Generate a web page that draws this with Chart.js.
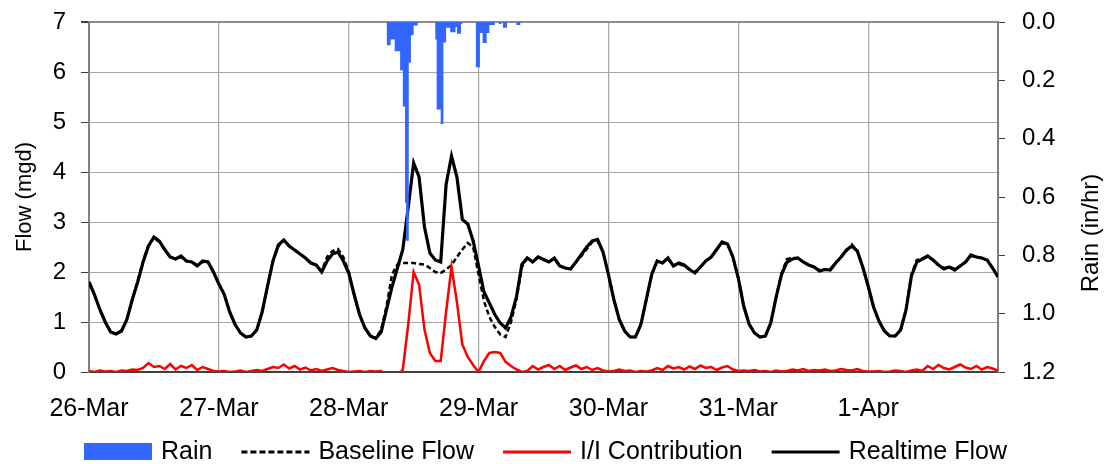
<!DOCTYPE html>
<html>
<head>
<meta charset="utf-8">
<title>Flow and Rain</title>
<script src="https://cdn.jsdelivr.net/npm/chart.js@4.4.1/dist/chart.umd.min.js"></script>
<style>
  body { margin: 0; background: #fff; }
  canvas { display: block; }
</style>
</head>
<body>
<canvas id="flowChart" width="1116" height="464"></canvas>
<script>
// one reading per hour, hour 0 = 26-Mar 00:00, hour 168 = 2-Apr 00:00
const realtimeFlow = [
  1.80, 1.55, 1.25, 1.00, 0.80, 0.76, 0.82, 1.05, 1.45, 1.80, 2.20, 2.52, 2.70, 2.62, 2.45, 2.30, 2.26, 2.32, 2.22, 2.20, 2.12, 2.22, 2.20, 2.00, 1.76,
  1.55, 1.20, 0.95, 0.78, 0.70, 0.72, 0.84, 1.20, 1.72, 2.22, 2.54, 2.64, 2.52, 2.44, 2.36, 2.28, 2.18, 2.14, 2.00, 2.22, 2.36, 2.40, 2.22, 1.98,
  1.55, 1.15, 0.88, 0.72, 0.67, 0.80, 1.25, 1.70, 2.08, 2.45, 3.30, 4.18, 3.90, 2.90, 2.38, 2.24, 2.20, 3.75, 4.32, 3.90, 3.05, 2.96, 2.62, 2.12,
  1.60, 1.38, 1.15, 0.98, 0.88, 1.10, 1.50, 2.15, 2.28, 2.20, 2.30, 2.25, 2.20, 2.28, 2.12, 2.08, 2.06, 2.20, 2.35, 2.50, 2.62, 2.65, 2.40, 1.95,
  1.45, 1.05, 0.82, 0.70, 0.70, 0.95, 1.45, 1.95, 2.22, 2.18, 2.28, 2.12, 2.18, 2.14, 2.05, 1.98, 2.10, 2.22, 2.30, 2.45, 2.60, 2.56, 2.30, 1.88,
  1.32, 0.96, 0.78, 0.70, 0.72, 0.98, 1.50, 1.95, 2.20, 2.26, 2.28, 2.20, 2.14, 2.10, 2.02, 2.05, 2.04, 2.18, 2.30, 2.44, 2.52, 2.42, 2.10, 1.72,
  1.30, 1.02, 0.82, 0.72, 0.72, 0.84, 1.24, 1.92, 2.20, 2.26, 2.32, 2.24, 2.14, 2.06, 2.10, 2.04, 2.12, 2.20, 2.34, 2.30, 2.28, 2.24, 2.08, 1.90
];
const baselineFlow = [
  1.80, 1.55, 1.25, 1.00, 0.80, 0.76, 0.82, 1.05, 1.45, 1.82, 2.22, 2.55, 2.68, 2.60, 2.44, 2.30, 2.26, 2.30, 2.22, 2.20, 2.14, 2.20, 2.20, 2.00, 1.76,
  1.55, 1.20, 0.95, 0.78, 0.70, 0.72, 0.84, 1.20, 1.72, 2.22, 2.52, 2.64, 2.52, 2.44, 2.36, 2.28, 2.18, 2.14, 2.02, 2.30, 2.42, 2.46, 2.30, 2.00,
  1.55, 1.15, 0.88, 0.72, 0.67, 0.85, 1.32, 1.95, 2.15, 2.18, 2.18, 2.18, 2.16, 2.15, 2.08, 2.00, 1.98, 2.05, 2.14, 2.30, 2.45, 2.58, 2.50, 1.95,
  1.42, 1.10, 0.90, 0.75, 0.70, 1.00, 1.45, 2.10, 2.28, 2.20, 2.30, 2.25, 2.20, 2.26, 2.12, 2.08, 2.06, 2.20, 2.32, 2.46, 2.60, 2.62, 2.40, 1.95,
  1.45, 1.05, 0.82, 0.70, 0.70, 0.95, 1.45, 1.95, 2.22, 2.18, 2.26, 2.12, 2.16, 2.12, 2.05, 2.00, 2.10, 2.22, 2.30, 2.45, 2.58, 2.56, 2.30, 1.88,
  1.32, 0.96, 0.78, 0.70, 0.72, 0.98, 1.50, 1.98, 2.26, 2.28, 2.28, 2.20, 2.14, 2.10, 2.04, 2.05, 2.06, 2.18, 2.30, 2.42, 2.55, 2.42, 2.10, 1.72,
  1.30, 1.02, 0.82, 0.72, 0.72, 0.84, 1.24, 1.95, 2.24, 2.26, 2.30, 2.24, 2.14, 2.08, 2.10, 2.06, 2.12, 2.20, 2.32, 2.30, 2.28, 2.24, 2.08, 1.90
];
const iiContribution = [
  0.02, 0.00, 0.03, 0.01, 0.02, 0.00, 0.03, 0.02, 0.05, 0.04, 0.08, 0.18, 0.10, 0.12, 0.06, 0.16, 0.05, 0.12, 0.08, 0.14, 0.04, 0.10, 0.06, 0.02, 0.01,
  0.02, 0.00, 0.01, 0.03, 0.00, 0.02, 0.04, 0.02, 0.06, 0.10, 0.08, 0.15, 0.07, 0.12, 0.05, 0.09, 0.03, 0.06, 0.02, 0.05, 0.08, 0.04, 0.02, 0.00,
  0.01, 0.02, 0.00, 0.02, 0.01, 0.02, -0.08, -0.25, -0.10, 0.05, 0.95, 2.00, 1.75, 0.85, 0.38, 0.22, 0.22, 1.20, 2.10, 1.40, 0.55, 0.30, 0.14, 0.00,
  0.22, 0.38, 0.40, 0.38, 0.20, 0.12, 0.05, 0.00, 0.02, 0.12, 0.05, 0.10, 0.14, 0.06, 0.12, 0.04, 0.09, 0.13, 0.06, 0.10, 0.04, 0.08, 0.03, 0.01,
  0.02, 0.05, 0.02, 0.03, 0.00, 0.02, 0.01, 0.03, 0.08, 0.04, 0.12, 0.07, 0.10, 0.05, 0.11, 0.06, 0.13, 0.08, 0.10, 0.04, 0.09, 0.12, 0.05, 0.02,
  0.03, 0.02, 0.04, 0.01, 0.02, 0.00, 0.03, 0.01, 0.02, 0.05, 0.03, 0.06, 0.02, 0.04, 0.03, 0.05, 0.02, 0.03, 0.06, 0.04, 0.03, 0.06, 0.02, 0.01,
  0.01, 0.02, 0.00, 0.01, 0.03, 0.02, 0.00, 0.03, 0.05, 0.02, 0.12, 0.06, 0.14, 0.08, 0.05, 0.10, 0.15, 0.09, 0.06, 0.12, 0.05, 0.10, 0.07, 0.03
];

// rain intensity, each value holds until the next time (hours from 26-Mar 00:00)
const rainHours = [
  55.0, 55.75, 56.5, 57.5, 58.0, 58.4, 58.6, 59.1, 59.5, 60.0, 60.75,
  64.0, 64.25, 65.0, 65.5, 66.0, 66.75, 67.75, 68.0, 68.75, 69.0,
  71.5, 72.25, 72.75, 73.5, 74.0, 75.0, 75.75, 76.25, 76.5, 77.25, 79.0, 79.75
];
const rainRate = [
  0.08, 0.06, 0.10, 0.165, 0.29, 0.62, 0.75, 0.14, 0.045, 0.012, 0,
  0.06, 0.30, 0.35, 0.07, 0.02, 0.035, 0.017, 0.04, 0.007, 0,
  0.155, 0.038, 0.072, 0.038, 0.01, 0, 0.007, 0, 0.02, 0, 0.01, 0
];

const dayLabels = ["26-Mar", "27-Mar", "28-Mar", "29-Mar", "30-Mar", "31-Mar", "1-Apr", ""];

const rainBlue = "#3366ff";

function hourly(values) {
  return values.map((v, i) => ({ x: i, y: v }));
}

// legend along the bottom and the right-hand axis title (reads bottom to top)
const extrasPlugin = {
  id: "extras",
  afterDraw(chart) {
    const ctx = chart.ctx;
    ctx.save();
    ctx.font = "25px 'Liberation Sans'";
    ctx.fillStyle = "#000";
    ctx.textBaseline = "middle";

    let x = 84;
    const y = 452;
    const legendOrder = ["Rain", "Baseline Flow", "I/I Contribution", "Realtime Flow"];
    legendOrder.forEach((name) => {
      const ds = chart.data.datasets.find((d) => d.label === name);
      if (ds.fill) {
        ctx.fillStyle = ds.backgroundColor;
        ctx.fillRect(x, y - 9, 68, 17);
      } else {
        ctx.strokeStyle = ds.borderColor;
        ctx.lineWidth = 3;
        ctx.setLineDash(ds.borderDash ? [6, 3] : []);
        ctx.beginPath();
        ctx.moveTo(x, y);
        ctx.lineTo(x + 68, y);
        ctx.stroke();
        ctx.setLineDash([]);
      }
      ctx.fillStyle = "#000";
      ctx.textAlign = "left";
      ctx.fillText(ds.label, x + 77, y);
      x += 68 + 9 + ctx.measureText(ds.label).width + 29;
    });

    ctx.font = "24px 'Liberation Sans'";
    ctx.translate(1091, 233);
    ctx.rotate(-Math.PI / 2);
    ctx.textAlign = "center";
    ctx.fillText("Rain (in/hr)", 0, 0);
    ctx.restore();
  }
};

Chart.defaults.font.family = "'Liberation Sans'";
Chart.defaults.font.size = 24;
Chart.defaults.color = "#000";

const chart = new Chart(document.getElementById("flowChart"), {
  type: "line",
  data: {
    datasets: [
      {
        label: "Realtime Flow",
        data: hourly(realtimeFlow),
        yAxisID: "yFlow",
        borderColor: "#000",
        borderWidth: 3.2,
        fill: false,
        pointRadius: 0,
        tension: 0,
        order: 1
      },
      {
        label: "I/I Contribution",
        data: hourly(iiContribution),
        yAxisID: "yFlow",
        borderColor: "#ff0000",
        borderWidth: 2.5,
        fill: false,
        pointRadius: 0,
        tension: 0,
        order: 2
      },
      {
        label: "Baseline Flow",
        data: hourly(baselineFlow),
        yAxisID: "yFlow",
        borderColor: "#000",
        borderWidth: 2.5,
        borderDash: [5, 3],
        fill: false,
        pointRadius: 0,
        tension: 0,
        order: 3
      },
      {
        label: "Rain",
        data: rainHours.map((h, i) => ({ x: h, y: rainRate[i] })),
        yAxisID: "yRain",
        stepped: true,
        fill: "origin",
        backgroundColor: rainBlue,
        borderColor: "rgba(0,0,0,0)",
        borderWidth: 1,
        pointRadius: 0,
        order: 0
      }
    ]
  },
  options: {
    responsive: false,
    animation: false,
    layout: { padding: { top: 22, bottom: 46, left: 0, right: 0 } },
    plugins: { legend: { display: false }, tooltip: { enabled: false } },
    scales: {
      x: {
        type: "linear",
        min: 0,
        max: 168,
        afterFit: (s) => { s.height = 46; },
        afterBuildTicks: (s) => { s.ticks = dayLabels.map((d, i) => ({ value: i * 24 })); },
        ticks: {
          padding: 22,
          maxRotation: 0,
          autoSkip: false,
          font: { size: 25 },
          callback: (v, i) => dayLabels[i]
        },
        grid: { color: "#a6a6a6", lineWidth: 1.2, drawTicks: false },
        border: { color: "#404040", width: 2 }
      },
      yFlow: {
        position: "left",
        min: 0,
        max: 7,
        afterFit: (s) => { s.width = 89; s.paddingTop = 0; s.paddingBottom = 0; },
        ticks: { stepSize: 1, padding: 15 },
        grid: {
          color: (c) => (c.tick && c.tick.value === 7 ? "#8c8c8c" : "#a6a6a6"),
          lineWidth: (c) => (c.tick && c.tick.value === 7 ? 2 : 1),
          tickLength: 8,
          tickColor: "#404040"
        },
        border: { color: "#808080", width: 2 },
        title: { display: true, text: "Flow (mgd)", font: { size: 22 }, padding: { top: 12, bottom: 0 } }
      },
      yRain: {
        position: "right",
        reverse: true,
        min: 0,
        max: 1.2,
        afterFit: (s) => { s.width = 118; s.paddingTop = 0; s.paddingBottom = 0; },
        ticks: { stepSize: 0.2, padding: 17, callback: (v) => v.toFixed(1) },
        grid: { drawOnChartArea: false, tickLength: 7, tickColor: "#404040" },
        border: { color: "#808080", width: 2 }
      }
    }
  },
  plugins: [extrasPlugin]
});
</script>
</body>
</html>
